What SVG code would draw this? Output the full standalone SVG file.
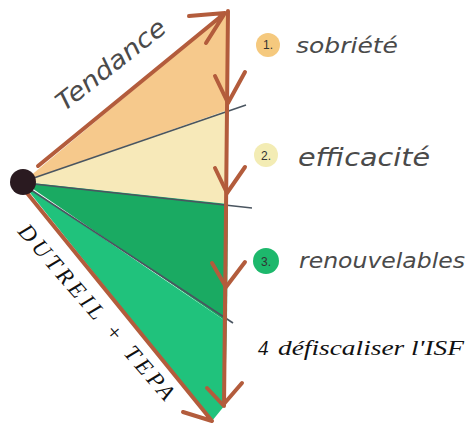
<svg xmlns="http://www.w3.org/2000/svg" width="471" height="425" viewBox="0 0 471 425">
<style>
.arrow{fill:none;stroke:#b35c3c;stroke-width:4;stroke-linecap:round;stroke-linejoin:round}
.thin{fill:none;stroke:#4a5560;stroke-width:1.6}
.hand{font-family:"DejaVu Sans",sans-serif;font-style:italic;fill:#4a4a4a}
.serif{font-family:"Liberation Serif",serif;font-style:italic;fill:#111}
.num{font-family:"Liberation Sans",sans-serif;font-size:12px;fill:#333;text-anchor:middle}
</style>
<rect width="471" height="425" fill="#ffffff"/>
<g id="sectors">
<polygon id="sector-sobriete" points="23,182 227,12 228,110" fill="#f6c98c"/>
<polygon id="sector-efficacite" points="23,182 228,110 228,204" fill="#f7e9b9"/>
<polygon id="sector-renouvelables" points="23,182 228,204 227,322" fill="#1aaa62"/>
<polygon id="sector-isf" points="23,184 227,322 225,405 212,421" fill="#20c27c"/>
</g>
<g id="connectors">
<line class="thin" x1="25" y1="181" x2="246" y2="105"/>
<line class="thin" x1="25" y1="183" x2="252" y2="208" stroke="#3d5a50"/>
<line class="thin" x1="25" y1="186" x2="233" y2="323" stroke="#1c2c3a"/>
<path class="arrow" d="M38,166 L225,13 M189,16 L225,13 L206,43"/>
<path class="arrow" d="M228,11 L224,406"/>
<path class="arrow" d="M215,76 L228,103 L245,72"/>
<path class="arrow" d="M215,168 L227,193 L245,167"/>
<path class="arrow" d="M212,263 L226,287 L245,262"/>
<path class="arrow" d="M207,388 L223,405 L242,383"/>
<path class="arrow" d="M27,193 L212,421 M183,412 L212,421"/>
</g>
<g id="origin"><circle cx="23" cy="182" r="13" fill="#2a1a20"/></g>
<g id="label-tendance"><text class="hand" font-size="25" transform="translate(64,112) rotate(-38)" textLength="132" lengthAdjust="spacingAndGlyphs">Tendance</text></g>
<g id="label-dutreil"><text class="serif" font-size="23" transform="translate(17,232) rotate(49)" textLength="225" lengthAdjust="spacing">DUTREIL + TEPA</text></g>
<g id="legend-1">
<circle cx="268" cy="45" r="12" fill="#f5c97e"/>
<text class="num" x="268" y="49">1.</text>
<text class="hand" font-size="21" x="296" y="53" textLength="102" lengthAdjust="spacingAndGlyphs">sobriété</text>
</g>
<g id="legend-2">
<circle cx="266" cy="155" r="12" fill="#f3ecb4"/>
<text class="num" x="266" y="160" font-size="13">2.</text>
<text class="hand" font-size="24" x="298" y="166" textLength="132" lengthAdjust="spacingAndGlyphs">efficacité</text>
</g>
<g id="legend-3">
<circle cx="266" cy="261" r="13" fill="#1db86c"/>
<text class="num" x="266" y="266" font-size="13">3.</text>
<text class="hand" font-size="22" x="299" y="268" textLength="166" lengthAdjust="spacingAndGlyphs">renouvelables</text>
</g>
<g id="legend-4">
<text class="serif" font-size="21" x="258" y="355">4</text>
<text class="serif" font-size="22" x="278" y="355" textLength="186" lengthAdjust="spacingAndGlyphs">défiscaliser l'ISF</text>
</g>
</svg>
